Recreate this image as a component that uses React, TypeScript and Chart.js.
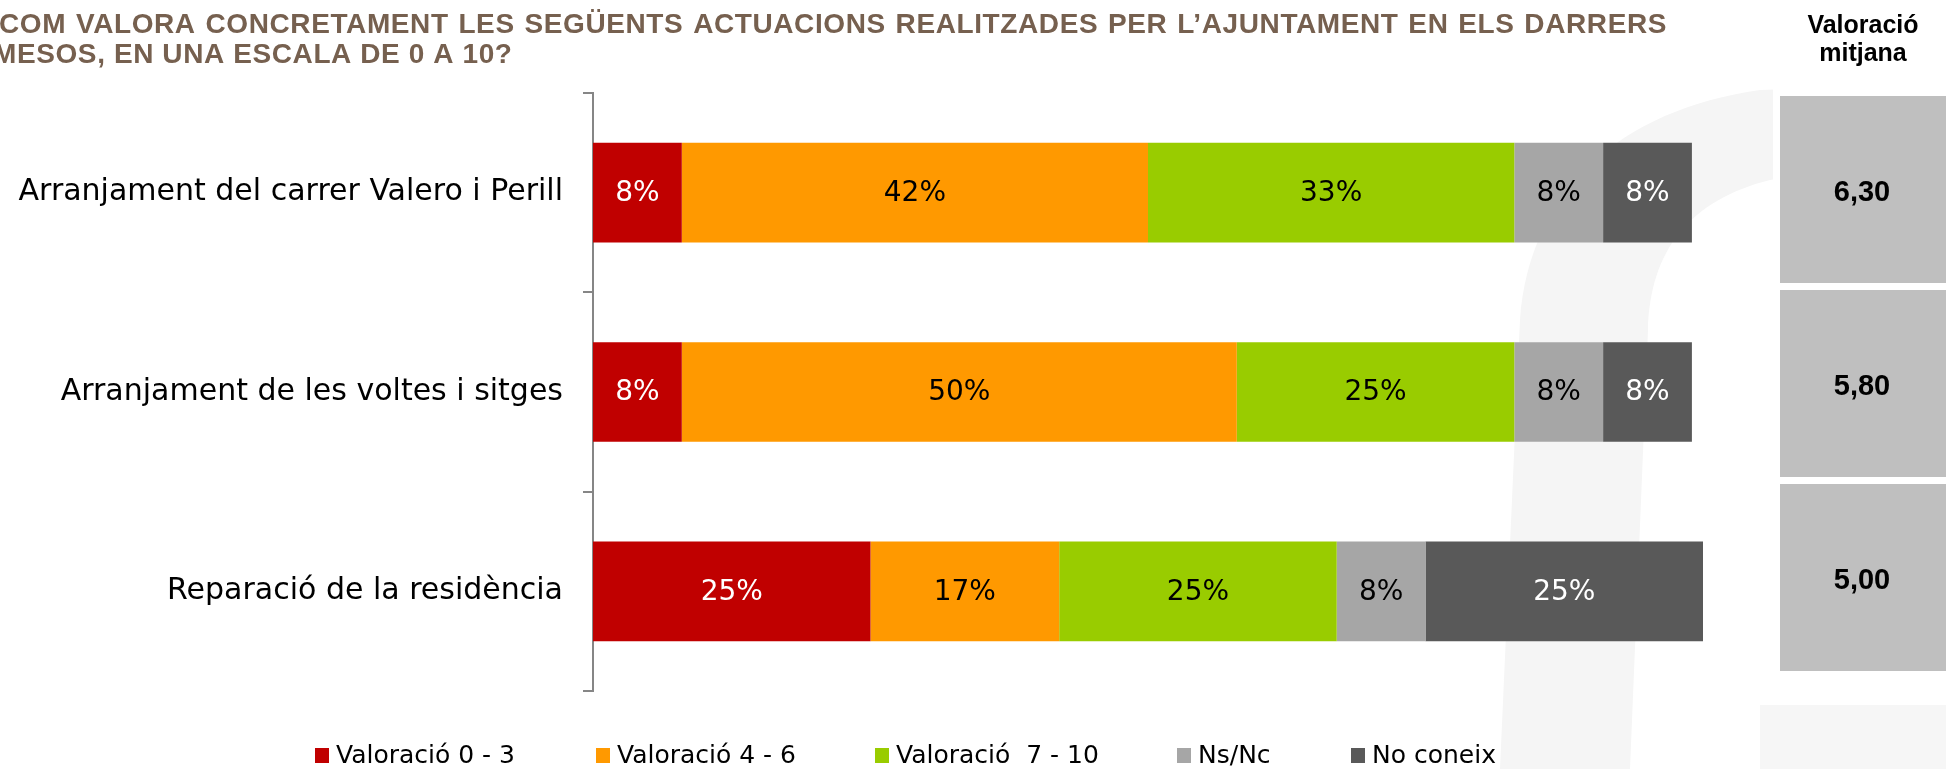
import React, { useEffect, useRef } from "react";
import { Chart, registerables } from "chart.js";

Chart.register(...registerables);

// ---------- data ----------
const categories = [
  "Arranjament del carrer Valero i Perill",
  "Arranjament de les voltes i sitges",
  "Reparació de la residència",
];
const seriesLabels = ["Valoració 0 - 3", "Valoració 4 - 6", "Valoració  7 - 10", "Ns/Nc", "No coneix"];
const valoracio0a3 = [8, 8, 25];
const valoracio4a6 = [42, 50, 17];
const valoracio7a10 = [33, 25, 25];
const nsNc = [8, 8, 8];
const noConeix = [8, 8, 25];
const averages = [6.3, 5.8, 5.0];
const titleLines = [
  "COM VALORA CONCRETAMENT LES SEGÜENTS ACTUACIONS REALITZADES PER L’AJUNTAMENT EN ELS DARRERS",
  "MESOS, EN UNA ESCALA DE 0 A 10?",
];
const averageHeader = ["Valoració", "mitjana"];

// ---------- styles ----------
const W = 1946;
const H = 769;
const seriesColors = ["#C00000", "#FF9900", "#99CC00", "#A6A6A6", "#595959"];
const labelColors = ["#FFFFFF", "#000000", "#000000", "#000000", "#FFFFFF"];

const backgroundPlugin = {
  id: "bgPlugin",
  beforeDraw(chart: any) {
    const ctx = chart.ctx;
    ctx.save();
    ctx.fillStyle = "#FFFFFF";
    ctx.fillRect(0, 0, W, H);
    // very faint watermark arch
    ctx.fillStyle = "#F5F5F5";
    ctx.beginPath();
    ctx.moveTo(1500, H);
    ctx.lineTo(1520, 320);
    ctx.bezierCurveTo(1530, 190, 1620, 110, 1760, 90);
    ctx.lineTo(W, 84);
    ctx.lineTo(W, 150);
    ctx.lineTo(1770, 180);
    ctx.bezierCurveTo(1690, 200, 1650, 250, 1648, 330);
    ctx.lineTo(1630, H);
    ctx.closePath();
    ctx.fill();
    ctx.fillStyle = "#F6F6F6";
    ctx.fillRect(1760, 705, W - 1760, H - 705);
    ctx.fillStyle = "#FFFFFF";
    ctx.fillRect(1773, 82, W - 1773, 618);
    ctx.restore();
  },
};

const dataLabelPlugin = {
  id: "dataLabelPlugin",
  afterDatasetsDraw(chart: any) {
    const ctx = chart.ctx;
    ctx.save();
    ctx.font = "28px 'DejaVu Sans'";
    ctx.textAlign = "center";
    ctx.textBaseline = "middle";
    chart.data.datasets.forEach((ds: any, di: number) => {
      const meta = chart.getDatasetMeta(di);
      meta.data.forEach((el: any, i: number) => {
        const v = ds.data[i];
        if (!v) return;
        const p = el.getProps(["x", "y", "base"], true);
        ctx.fillStyle = labelColors[di];
        ctx.fillText(`${v}%`, (p.x + p.base) / 2, p.y + 1);
      });
    });
    ctx.restore();
  },
};

const titlePlugin = {
  id: "titlePlugin",
  afterDraw(chart: any) {
    const ctx = chart.ctx;
    ctx.save();
    ctx.font = "bold 28px 'Liberation Sans'";
    ctx.fillStyle = "#76604F";
    ctx.textBaseline = "alphabetic";
    ctx.textAlign = "left";
    (ctx as any).letterSpacing = "0.6px";
    const words = titleLines[0].split(" ");
    const widths = words.map((w: string) => ctx.measureText(w).width);
    const sum = widths.reduce((a: number, b: number) => a + b, 0);
    const left = -1;
    const right = 1667;
    const gap = (right - left - sum) / (words.length - 1);
    let x = left;
    words.forEach((w: string, i: number) => {
      ctx.fillText(w, x, 33);
      x += widths[i] + gap;
    });
    ctx.fillText(titleLines[1], -7, 63);
    (ctx as any).letterSpacing = "0px";
    ctx.restore();
  },
};

const averagesPlugin = {
  id: "averagesPlugin",
  afterDraw(chart: any) {
    const ctx = chart.ctx;
    ctx.save();
    const cx = 1863;
    ctx.textAlign = "center";
    ctx.fillStyle = "#000000";
    ctx.font = "bold 25px 'Liberation Sans'";
    ctx.textBaseline = "alphabetic";
    ctx.fillText(averageHeader[0], cx, 33);
    ctx.fillText(averageHeader[1], cx, 61);
    const boxLeft = 1780;
    const boxTop = 96;
    const boxH = 187;
    const pitch = 194;
    averages.forEach((v, i) => {
      const top = boxTop + i * pitch;
      ctx.fillStyle = "#BFBFBF";
      ctx.fillRect(boxLeft, top, W - boxLeft, boxH);
      ctx.fillStyle = "#000000";
      ctx.font = "bold 29px 'Liberation Sans'";
      ctx.textBaseline = "middle";
      ctx.fillText(v.toFixed(2).replace(".", ","), 1862, top + 97);
    });
    ctx.restore();
  },
};

const legendPlugin = {
  id: "customLegend",
  afterDraw(chart: any) {
    const ctx = chart.ctx;
    const xs = [315, 596, 875, 1177, 1351];
    ctx.save();
    ctx.font = "25px 'DejaVu Sans'";
    ctx.textBaseline = "middle";
    ctx.textAlign = "left";
    chart.data.datasets.forEach((ds: any, i: number) => {
      ctx.fillStyle = ds.backgroundColor;
      ctx.fillRect(xs[i], 748, 14, 15);
      ctx.fillStyle = "#000000";
      ctx.fillText(ds.label, xs[i] + 21, 756);
    });
    ctx.restore();
  },
};

export default function App() {
  const canvasRef = useRef<HTMLCanvasElement | null>(null);

  useEffect(() => {
    if (!canvasRef.current) return;
    const seriesData = [valoracio0a3, valoracio4a6, valoracio7a10, nsNc, noConeix];
    const chart = new Chart(canvasRef.current, {
      type: "bar",
      data: {
        labels: categories,
        datasets: seriesData.map((d, i) => ({
          label: seriesLabels[i],
          data: d,
          backgroundColor: seriesColors[i],
          borderWidth: 0,
          barPercentage: 1,
          categoryPercentage: 0.5,
        })),
      },
      options: {
        indexAxis: "y",
        responsive: false,
        animation: false,
        devicePixelRatio: 1,
        layout: { padding: { top: 93, right: W - 1703, bottom: H - 691, left: 0 } },
        plugins: {
          legend: { display: false },
          title: { display: false },
          tooltip: { enabled: false },
        },
        scales: {
          x: {
            stacked: true,
            min: 0,
            max: 100,
            display: false,
          },
          y: {
            stacked: true,
            afterFit(scale: any) {
              scale.width = 593;
            },
            grid: {
              display: true,
              drawOnChartArea: false,
              drawTicks: true,
              tickLength: 10,
              color: "#868686",
              lineWidth: 2,
              offset: true,
            },
            border: { display: true, color: "#868686", width: 2 },
            ticks: {
              color: "#000000",
              padding: 20,
              font: { family: "'DejaVu Sans'", size: 30 },
            },
          },
        },
      },
      plugins: [backgroundPlugin, dataLabelPlugin, titlePlugin, averagesPlugin, legendPlugin],
    } as any);
    return () => chart.destroy();
  }, []);

  return (
    <div style={{ position: "fixed", left: 0, top: 0, width: W, height: H, background: "#fff" }}>
      <canvas ref={canvasRef} width={W} height={H} style={{ display: "block", width: W, height: H }} />
    </div>
  );
}
